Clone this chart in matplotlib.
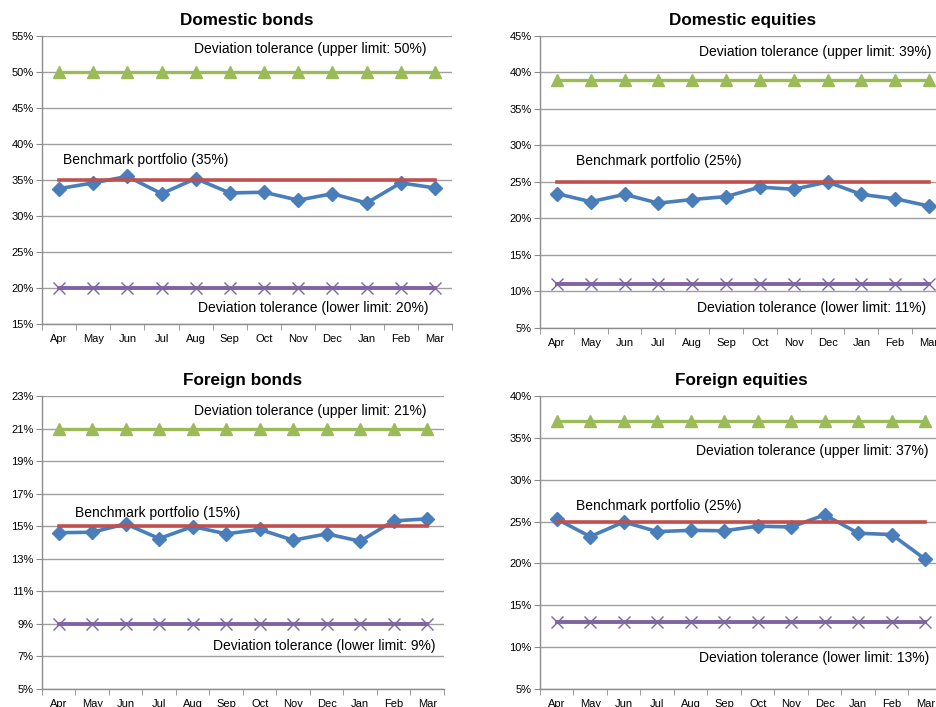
import matplotlib.pyplot as plt
from matplotlib.ticker import FuncFormatter, FixedLocator, NullFormatter

plt.rcParams['font.family'] = ['Liberation Sans', 'DejaVu Sans']

months = ["Apr", "May", "Jun", "Jul", "Aug", "Sep", "Oct", "Nov", "Dec", "Jan", "Feb", "Mar"]

# Actual allocation (%) per month
dom_bonds = [33.8, 34.6, 35.5, 33.1, 35.2, 33.2, 33.3, 32.2, 33.1, 31.8, 34.6, 33.9]
dom_equities = [23.4, 22.3, 23.3, 22.1, 22.6, 23.0, 24.3, 24.0, 25.0, 23.3, 22.7, 21.7]
for_bonds = [14.6, 14.63, 15.14, 14.24, 14.98, 14.53, 14.8, 14.14, 14.53, 14.08, 15.33, 15.45]
for_equities = [25.3, 23.2, 24.95, 23.8, 23.95, 23.9, 24.45, 24.35, 25.8, 23.6, 23.45, 20.5]

# (benchmark, lower limit, upper limit)
dom_bonds_limits = (35, 20, 50)
dom_equities_limits = (25, 11, 39)
for_bonds_limits = (15, 9, 21)
for_equities_limits = (25, 13, 37)

BLUE = '#4A7EBB'
RED = '#C0504D'
GREEN = '#9BBB59'
PURPLE = '#8064A2'
GRID = '#A0A0A0'
SPINE = '#8C8C8C'


def draw_panel(ax, title, values, limits, ylim, ystep, label_pos):
    bench, lower, upper = limits
    x = list(range(len(months)))
    n = len(months)

    ax.plot(x, [upper] * n, color=GREEN, lw=2.4, marker='^', ms=9, zorder=3)
    ax.plot(x, [lower] * n, color=PURPLE, lw=2.8, marker='x', ms=9, mew=1.0, zorder=3)
    ax.plot(x, values, color=BLUE, lw=2.6, marker='D', ms=7, zorder=4)
    ax.plot(x, [bench] * n, color=RED, lw=2.6, zorder=4.5)

    ax.set_xlim(-0.5, n - 0.5)
    ax.set_ylim(*ylim)
    yt = list(range(ylim[0], ylim[1] + 1, ystep))
    ax.set_yticks(yt)
    ax.yaxis.set_major_formatter(FuncFormatter(lambda v, p: f"{v:.0f}%"))
    ax.grid(axis='y', color=GRID, lw=1.0)
    ax.set_axisbelow(True)

    # month labels centred, tick marks on category boundaries
    ax.set_xticks(x)
    ax.set_xticklabels(months)
    ax.tick_params(axis='x', which='major', length=0, labelsize=8, pad=7)
    ax.xaxis.set_minor_locator(FixedLocator([i - 0.5 for i in range(n + 1)]))
    ax.xaxis.set_minor_formatter(NullFormatter())
    ax.tick_params(axis='x', which='minor', length=4, color=SPINE)
    ax.tick_params(axis='y', length=4, color=SPINE, labelsize=8, pad=2)

    for side in ('top', 'right'):
        ax.spines[side].set_visible(False)
    for side in ('left', 'bottom'):
        ax.spines[side].set_color(SPINE)
        ax.spines[side].set_linewidth(1.0)

    ax.set_title(title, fontsize=12.3, fontweight='bold', pad=8)

    texts = [f"Deviation tolerance (upper limit: {upper}%)",
             f"Benchmark portfolio ({bench}%)",
             f"Deviation tolerance (lower limit: {lower}%)"]
    for t, (tx, ty) in zip(texts, label_pos):
        ax.text(tx, ty, t, fontsize=10, ha='center', va='center', zorder=5)


fig = plt.figure(figsize=(9.37, 7.07), dpi=100)

ax1 = fig.add_axes([0.0448, 0.5417, 0.4376, 0.4074])
ax2 = fig.add_axes([0.5763, 0.5361, 0.4333, 0.4130])
ax3 = fig.add_axes([0.0448, 0.0255, 0.4290, 0.4144])
ax4 = fig.add_axes([0.5763, 0.0255, 0.4290, 0.4144])

draw_panel(ax1, "Domestic bonds", dom_bonds, dom_bonds_limits, (15, 55), 5,
           [(7.34, 53.2), (2.54, 37.8), (7.43, 17.2)])
draw_panel(ax2, "Domestic equities", dom_equities, dom_equities_limits, (5, 45), 5,
           [(7.63, 42.8), (3.02, 27.9), (7.53, 7.74)])
draw_panel(ax3, "Foreign bonds", for_bonds, for_bonds_limits, (5, 23), 2,
           [(7.5, 22.08), (2.96, 15.81), (7.92, 7.64)])
draw_panel(ax4, "Foreign equities", for_equities, for_equities_limits, (5, 40), 5,
           [(7.62, 33.43), (3.05, 26.86), (7.68, 8.7)])

fig.savefig("out.png", dpi=100)
